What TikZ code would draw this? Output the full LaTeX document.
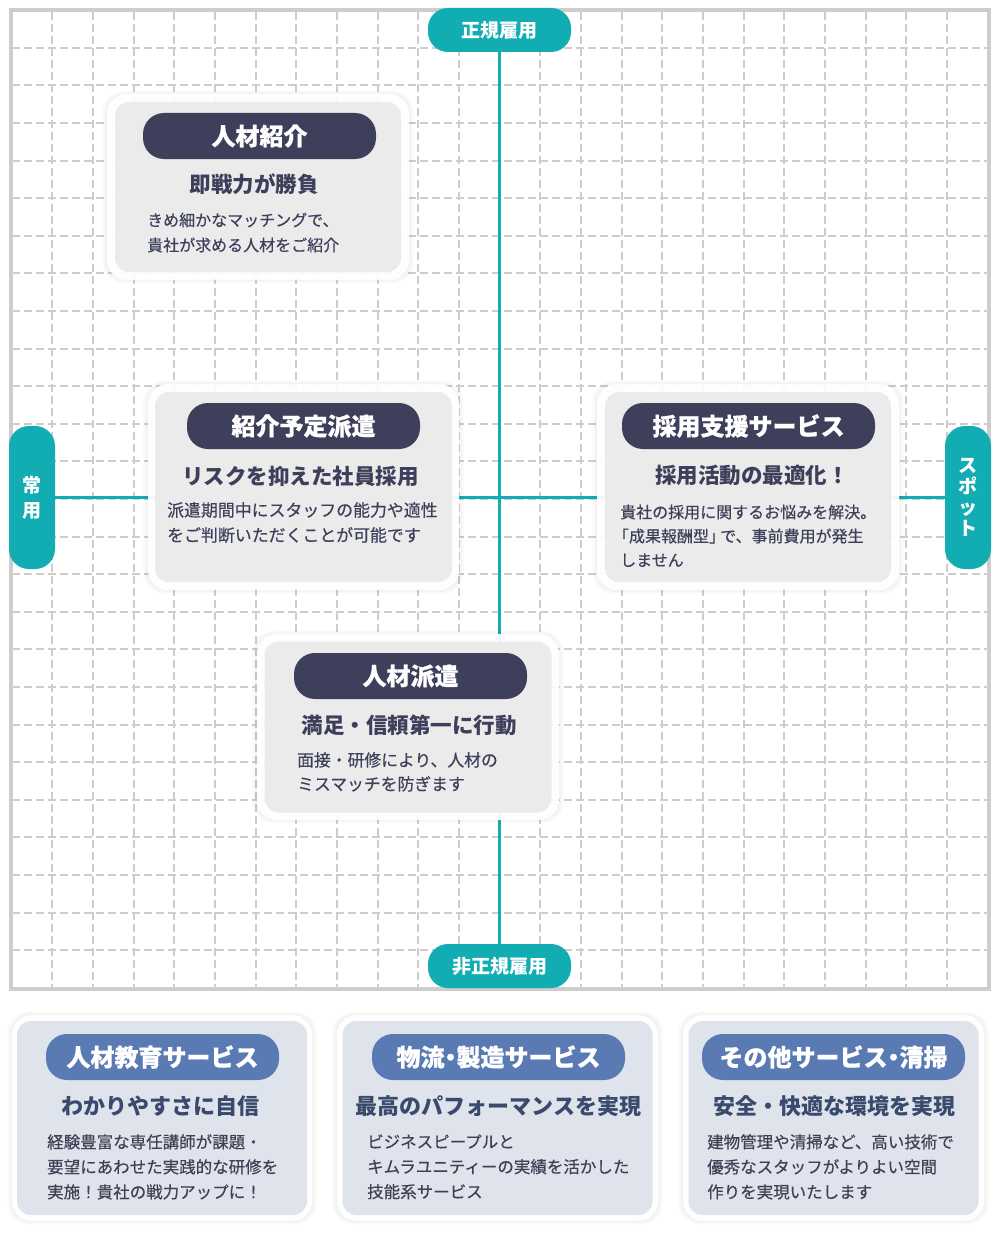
\documentclass[tikz,border=0pt]{standalone}
\usepackage{fontspec}
\setmainfont{Noto Sans CJK JP}
\newfontfamily\heavyfont{Noto Sans CJK JP}[BoldFeatures={FakeBold=0.6}]
\newfontfamily\bodyfont{Noto Sans CJK JP}[FakeBold=0.35]
\usetikzlibrary{shadows}
\definecolor{tealmain}{HTML}{12ACB3}
\definecolor{navy}{HTML}{3D3F5B}
\definecolor{gridgray}{HTML}{CDCDCD}
\definecolor{cardgray}{HTML}{EBEBEB}
\definecolor{cardblue}{HTML}{DFE3EC}
\definecolor{pillblue}{HTML}{5A7AB4}
\definecolor{subblue}{HTML}{394A6C}
\definecolor{bodygray}{HTML}{3E4154}
\tikzstyle{grid line}=[draw=gridgray,line width=2,dash pattern=on 8pt off 4pt]
\tikzstyle{frame}=[draw=gridgray,line width=4]
\tikzstyle{axis line}=[draw=tealmain,line width=3]
\tikzstyle{axis label}=[fill=tealmain,text=white,rounded corners=20,inner sep=0,
                        align=center,font=\bfseries\fontsize{19}{25}\selectfont]
\tikzstyle{card}=[fill=white,fill opacity=0.93,rounded corners=20,inner sep=0,
                  general shadow={fill=black,opacity=0.025,shadow scale=1.03},
                  general shadow={fill=black,opacity=0.025,shadow scale=1.015}]
\tikzstyle{card in}=[rounded corners=14,inner sep=0]
\tikzstyle{pill}=[rounded corners=21,inner sep=0,minimum height=46,text=white,
                  font=\heavyfont\bfseries\fontsize{24}{28}\selectfont]
\tikzstyle{catch}=[inner sep=0,font=\bfseries\fontsize{21.5}{26}\selectfont]
\tikzstyle{body}=[inner sep=0,anchor=north west,align=left,font=\bodyfont\fontsize{16}{25}\selectfont]

\begin{document}
\begin{tikzpicture}[x=1pt,y=-1pt]
  \useasboundingbox (0,0) rectangle (1000,1236);
  \fill[white] (0,0) rectangle (1000,1236);

  \def\gx{40.67} % grid column width
  \def\gy{37.6} % grid row height

  % GRID
  \foreach \i in {1,...,23}{
    \draw[grid line] (11.6+\i*\gx,12) -- ++(0,975);
  }
  \foreach \j in {1,...,25}{
    \draw[grid line] (12,10.1+\j*\gy) -- ++(975,0);
  }
  \draw[frame] (10.5,10) rectangle (989,988.5);

  % AXES
  \node[axis label,minimum width=143,minimum height=44] (seiki) at (499.5,30) {正規雇用};
  \node[axis label,minimum width=143,minimum height=44] (hiseiki) at (499.5,966) {非正規雇用};
  \node[axis label,minimum width=46,minimum height=143] (joyo) at (32,497.5) {常\\用};
  \node[axis label,minimum width=46,minimum height=143,
        font=\bfseries\fontsize{19}{21}\selectfont] (spot) at (968,497.5) {ス\\ポ\\ッ\\ト};
  \draw[axis line] (seiki) -- (hiseiki);
  \draw[axis line] (joyo) -- (spot);

  % QUADRANT CARDS
  \node[card,minimum width=302,minimum height=186] (shokai) at (258,187) {};
  \node[card in,fill=cardgray,minimum width=286,minimum height=170] (shokai in) at (shokai) {};
  \node[pill,fill=navy,minimum width=233] (shokai title) at (259.5,136) {人材紹介};
  \node[catch,text=navy] (shokai catch) at (254,184) {即戦力が勝負};
  \node[body,text=navy] (shokai body) at (147,212.5) {きめ細かなマッチングで、\\貴社が求める人材をご紹介};

  \node[card,minimum width=311,minimum height=206] (yotei) at (303.5,487) {};
  \node[card in,fill=cardgray,minimum width=297,minimum height=190] (yotei in) at (yotei) {};
  \node[pill,fill=navy,minimum width=233] (yotei title) at (303.5,426) {紹介予定派遣};
  \node[catch,text=navy] (yotei catch) at (300.5,476) {リスクを抑えた社員採用};
  \node[body,text=navy,font=\bodyfont\fontsize{16.9}{25}\selectfont] (yotei body) at (167,502)
       {派遣期間中にスタッフの能力や適性\\をご判断いただくことが可能です};

  \node[card,minimum width=302,minimum height=206] (saiyo) at (748,487) {};
  \node[card in,fill=cardgray,minimum width=286,minimum height=190] (saiyo in) at (saiyo) {};
  \node[pill,fill=navy,minimum width=253] (saiyo title) at (748.5,426) {採用支援サービス};
  \node[catch,text=navy] (saiyo catch) at (752,475) {採用活動の最適化！};
  \node[body,text=navy,font=\bodyfont\fontsize{16}{24}\selectfont] (saiyo body) at (620,504.5)
       {貴社の採用に関するお悩みを解決。\\\kern-.45em「成果報酬型」\kern-.3emで、事前費用が発生\\しません};

  \node[card,minimum width=302,minimum height=186] (haken) at (408,727) {};
  \node[card in,fill=cardgray,minimum width=287,minimum height=171] (haken in) at (haken) {};
  \node[pill,fill=navy,minimum width=233] (haken title) at (410.5,676) {人材派遣};
  \node[catch,text=navy] (haken catch) at (409,725) {満足・信頼第一に行動};
  \node[body,text=navy,font=\bodyfont\fontsize{16.8}{24}\selectfont] (haken body) at (297,752)
       {面接・研修により、人材の\\ミスマッチを防ぎます};

  % SERVICE CARDS
  \node[card,minimum width=300,minimum height=206] (kyoiku) at (162,1118) {};
  \node[card in,fill=cardblue,minimum width=290,minimum height=194] (kyoiku in) at (kyoiku) {};
  \node[pill,fill=pillblue,minimum width=233] (kyoiku title) at (162.5,1057) {人材教育サービス};
  \node[catch,text=subblue,font=\bfseries\fontsize{22}{26}\selectfont] (kyoiku catch) at (160,1106) {わかりやすさに自信};
  \node[body,text=bodygray,font=\bodyfont\fontsize{16.5}{25}\selectfont] (kyoiku body) at (47,1134)
       {経験豊富な専任講師が課題・\\要望にあわせた実践的な研修を\\実施！貴社の戦力アップに！};

  \node[card,minimum width=321,minimum height=206] (butsuryu) at (497.5,1118) {};
  \node[card in,fill=cardblue,minimum width=310,minimum height=194] (butsuryu in) at (butsuryu) {};
  \node[pill,fill=pillblue,minimum width=253] (butsuryu title) at (498.5,1057)
       {物流\kern-.25em・\kern-.25em製造サービス};
  \node[catch,text=subblue,font=\bfseries\fontsize{22}{26}\selectfont] (butsuryu catch) at (498.5,1106) {最高のパフォーマンスを実現};
  \node[body,text=bodygray,font=\bodyfont\fontsize{16.5}{25}\selectfont] (butsuryu body) at (367,1134)
       {ビジネスピープルと\\キムラユニティーの実績を活かした\\技能系サービス};

  \node[card,minimum width=301,minimum height=206] (sonota) at (833.5,1118) {};
  \node[card in,fill=cardblue,minimum width=290,minimum height=194] (sonota in) at (sonota) {};
  \node[pill,fill=pillblue,minimum width=263] (sonota title) at (833.5,1057)
       {その他サービス\kern-.25em・\kern-.25em清掃};
  \node[catch,text=subblue,font=\bfseries\fontsize{22}{26}\selectfont] (sonota catch) at (834.5,1106) {安全・快適な環境を実現};
  \node[body,text=bodygray,font=\bodyfont\fontsize{16.5}{25}\selectfont] (sonota body) at (707,1134)
       {建物管理や清掃など、高い技術で\\優秀なスタッフがよりよい空間\\作りを実現いたします};

\end{tikzpicture}
\end{document}
